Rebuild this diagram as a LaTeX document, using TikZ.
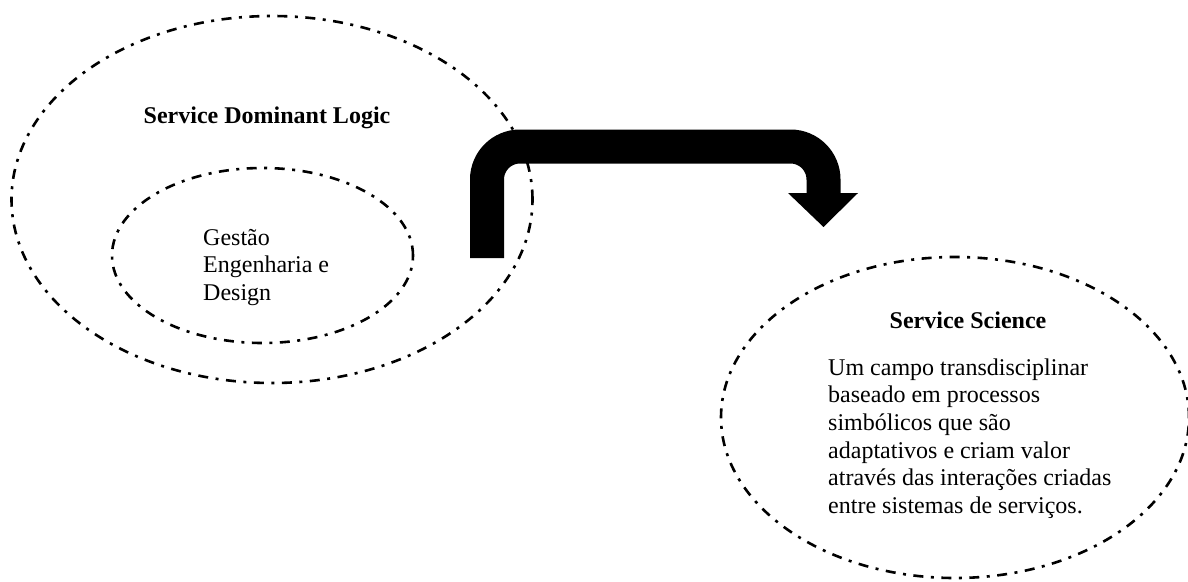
\documentclass[tikz,border=0pt]{standalone}
\usepackage{fontspec}
\setmainfont{Liberation Serif}
\usetikzlibrary{shapes.geometric}
% strut fixing the top of a text block 20pt above its first baseline
\newcommand\firstln{\rule{0pt}{20pt}}
\begin{document}
\begin{tikzpicture}[x=1pt,y=-1pt,
  dashdot/.style={draw, line width=2.6pt, dash pattern=on 10pt off 7.5pt on 3pt off 7.5pt},
  zone/.style={ellipse, dashdot, inner sep=0pt, outer sep=0pt},
  heading/.style={font=\fontsize{24}{27.6}\selectfont\bfseries, inner sep=0pt, anchor=base},
  body/.style={font=\fontsize{24}{27.6}\selectfont, align=left, inner sep=0pt, anchor=north west},
  band/.style={line width=34pt, rounded corners=33pt},
]
\useasboundingbox (0,0) rectangle (1188,581);

% the three fields
\node[zone, minimum width=521pt, minimum height=367pt] (sdl) at (272,199.5) {};
\node[zone, minimum width=301pt, minimum height=175pt] (ged) at (262.5,255.5) {};
\node[zone, minimum width=468pt, minimum height=321pt] (ss) at (955,417.5) {};

% texts
\node[heading] (sdltitle) at (267,123) {Service Dominant Logic};
\node[body] (gedtext) at (203,225) {\firstln Gestão\\Engenharia e\\Design};
\node[heading] (sstitle) at (968,328) {Service Science};
\node[body] (sstext) at (828,355) {\firstln Um campo transdisciplinar\\baseado em processos\\simbólicos que são\\adaptativos e criam valor\\através das interações criadas\\entre sistemas de serviços.};

% bent block arrow
\coordinate (tail) at (487,258);
\coordinate (bendA) at (487,146.5);
\coordinate (bendB) at (823.5,146.5);
\coordinate (neck) at (823.5,193.5);
\coordinate (headL) at (788,193);
\coordinate (headR) at (858,193);
\coordinate (tip) at (823.5,227);
\draw[band] (tail) -- (bendA) -- (bendB) -- (neck);
\fill (headL) -- (headR) -- (tip) -- cycle;
\end{tikzpicture}
\end{document}
